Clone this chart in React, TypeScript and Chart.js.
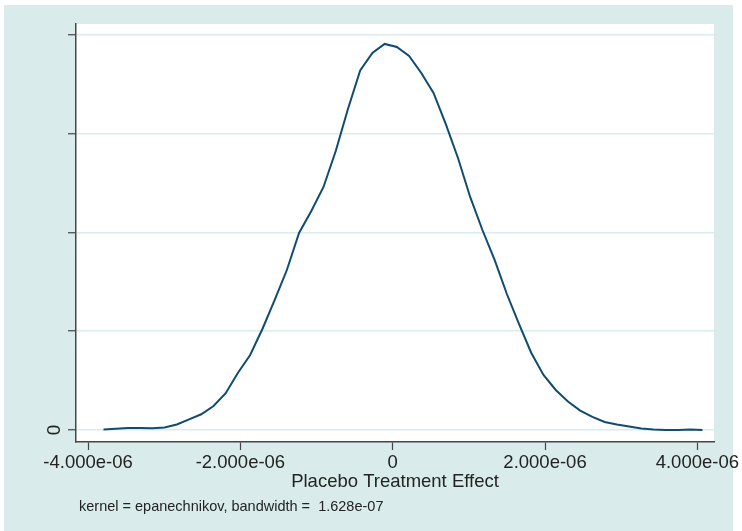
import React, { useEffect, useRef } from "react";
import { Chart, registerables } from "chart.js";

Chart.register(...registerables);

// Grid of evaluation points (Placebo Treatment Effect)
const X_VALUES = [
  -3.798e-6, -3.637e-6, -3.477e-6, -3.316e-6, -3.156e-6, -2.995e-6, -2.835e-6, -2.674e-6, -2.514e-6, -2.353e-6,
  -2.193e-6, -2.032e-6, -1.872e-6, -1.711e-6, -1.551e-6, -1.39e-6, -1.23e-6, -1.069e-6, -0.909e-6, -0.748e-6,
  -0.588e-6, -0.427e-6, -0.267e-6, -0.106e-6, 0.054e-6, 0.215e-6, 0.375e-6, 0.536e-6, 0.696e-6, 0.857e-6,
  1.017e-6, 1.178e-6, 1.338e-6, 1.499e-6, 1.659e-6, 1.82e-6, 1.98e-6, 2.141e-6, 2.301e-6, 2.462e-6,
  2.622e-6, 2.783e-6, 2.943e-6, 3.104e-6, 3.264e-6, 3.425e-6, 3.585e-6, 3.746e-6, 3.906e-6, 4.067e-6,
];

// Kernel density estimate
const DENSITY = [
  500, 1200, 2000, 2000, 1800, 2600, 5600, 10800, 15900, 24300,
  37200, 58000, 76000, 102300, 131600, 162000, 199500, 221800, 246100, 282500,
  325100, 364000, 381800, 390900, 387800, 378700, 361500, 341300, 309900, 275400,
  236000, 202500, 172200, 137700, 107300, 78000, 55700, 40500, 28900, 19700,
  13200, 8100, 5600, 3500, 1500, 500, 100, 100, 500, 100,
];

const X_TICKS = [-4e-6, -2e-6, 0, 2e-6, 4e-6];
const X_TICK_LABELS = ["-4.000e-06", "-2.000e-06", "0", "2.000e-06", "4.000e-06"];
const Y_TICKS = [0, 100000, 200000, 300000, 400000];
const Y_TICK_LABELS = ["0", "", "", "", ""];

const X_TITLE = "Placebo Treatment Effect";
const NOTE = "kernel = epanechnikov, bandwidth =  1.628e-07";

const TEAL = "rgb(217,236,235)";
const GRID = "rgb(218,236,237)";
const AXIS = "rgb(70,70,70)";
const TEXT = "rgb(35,35,35)";
const LINE = "rgb(16,76,112)";
const FONT = "'Liberation Sans', Arial, sans-serif";

const decorPlugin = {
  id: "decor",
  beforeDraw(chart: any) {
    const { ctx, chartArea } = chart;
    ctx.save();
    ctx.fillStyle = "#ffffff";
    ctx.fillRect(0, 0, chart.width, chart.height);
    ctx.fillStyle = TEAL;
    ctx.fillRect(4, 5, 729, chart.height - 5);
    ctx.fillStyle = "#ffffff";
    ctx.fillRect(chartArea.left, chartArea.top, chartArea.right - chartArea.left, chartArea.bottom - chartArea.top);
    ctx.restore();
  },
  afterDraw(chart: any) {
    const { ctx, chartArea, scales } = chart;
    ctx.save();
    ctx.fillStyle = TEXT;
    // rotated y tick labels
    ctx.font = `19px ${FONT}`;
    ctx.textAlign = "center";
    ctx.textBaseline = "middle";
    Y_TICKS.forEach((v, i) => {
      const lbl = Y_TICK_LABELS[i];
      if (!lbl) return;
      const y = scales.y.getPixelForValue(v);
      ctx.save();
      ctx.translate(chartArea.left - 21, y);
      ctx.rotate(-Math.PI / 2);
      ctx.fillText(lbl, 0, 0);
      ctx.restore();
    });
    // x title
    ctx.font = `18.5px ${FONT}`;
    ctx.textAlign = "center";
    ctx.textBaseline = "middle";
    ctx.fillText(X_TITLE, (chartArea.left + chartArea.right) / 2, 482);
    // note
    ctx.font = `14.5px ${FONT}`;
    ctx.textAlign = "left";
    ctx.fillText(NOTE, 79, 507);
    ctx.restore();
  },
};

export default function App() {
  const ref = useRef<HTMLCanvasElement>(null);

  useEffect(() => {
    document.body.style.margin = "0";
    const canvas = ref.current;
    if (!canvas) return;
    const chart = new Chart(canvas, {
      type: "line",
      data: {
        datasets: [
          {
            data: DENSITY.map((d, i) => ({ x: X_VALUES[i], y: d })),
            borderColor: LINE,
            borderWidth: 2,
            pointRadius: 0,
            tension: 0,
            fill: false,
          },
        ],
      },
      options: {
        animation: false,
        responsive: false,
        devicePixelRatio: 1,
        layout: { padding: { top: 24, right: 28, left: 0, bottom: 0 } },
        plugins: {
          legend: { display: false },
          tooltip: { enabled: false },
        },
        scales: {
          x: {
            type: "linear",
            min: -4.159e-6,
            max: 4.219e-6,
            afterBuildTicks: (scale: any) => {
              scale.ticks = X_TICKS.map((v) => ({ value: v }));
            },
            afterFit: (scale: any) => {
              scale.height = 89;
              scale.paddingLeft = 0;
              scale.paddingRight = 0;
            },
            grid: {
              drawOnChartArea: false,
              drawTicks: true,
              tickLength: 8,
              tickColor: AXIS,
              tickWidth: 1.2,
            },
            border: { display: true, color: AXIS, width: 1.5 },
            ticks: {
              maxRotation: 0,
              minRotation: 0,
              autoSkip: false,
              padding: 2,
              color: TEXT,
              font: { family: FONT, size: 18.5 },
              callback: (_v: any, i: number) => X_TICK_LABELS[i],
            },
          },
          y: {
            type: "linear",
            min: -12150,
            max: 411100,
            afterBuildTicks: (scale: any) => {
              scale.ticks = Y_TICKS.map((v) => ({ value: v }));
            },
            afterFit: (scale: any) => {
              scale.width = 76;
              scale.paddingTop = 0;
              scale.paddingBottom = 0;
            },
            grid: {
              color: GRID,
              lineWidth: 1.5,
              drawTicks: true,
              tickLength: 8,
              tickColor: AXIS,
              tickWidth: 1.2,
            },
            border: { display: true, color: AXIS, width: 1.5 },
            ticks: { display: false },
          },
        },
      },
      plugins: [decorPlugin],
    });
    return () => chart.destroy();
  }, []);

  return (
    <div style={{ position: "absolute", left: 0, top: 0, width: 742, height: 531 }}>
      <canvas ref={ref} width={742} height={531} style={{ width: 742, height: 531, display: "block" }} />
    </div>
  );
}
